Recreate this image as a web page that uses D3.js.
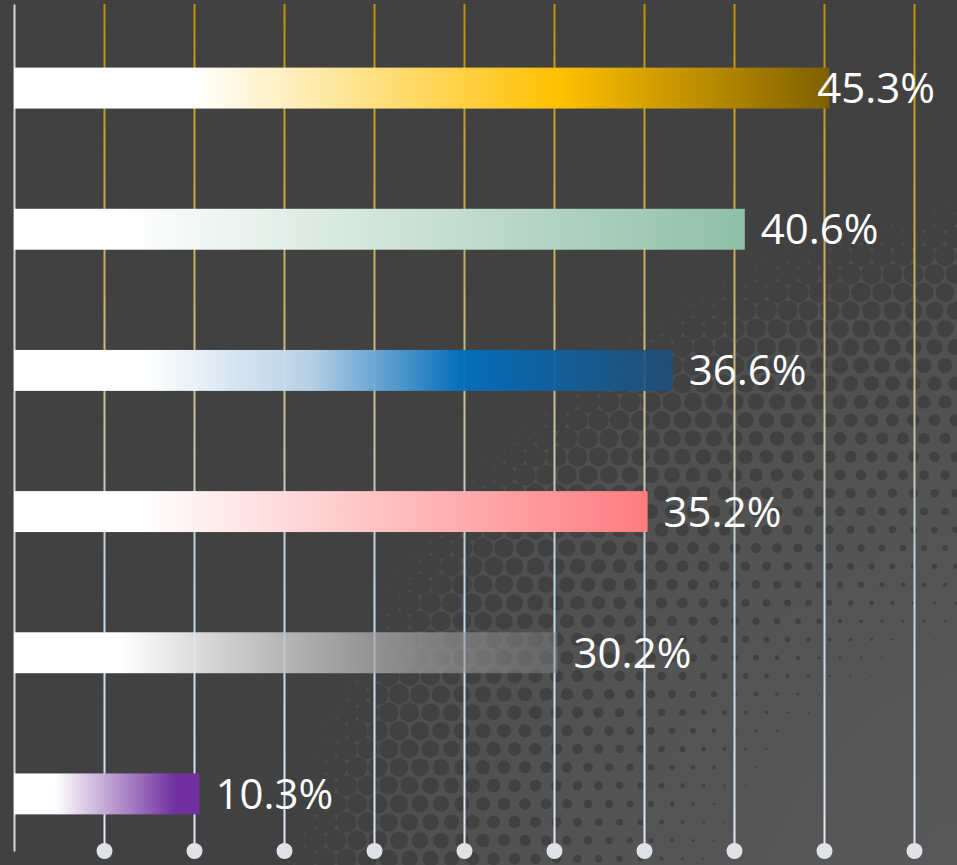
<!DOCTYPE html>
<html>
<head>
<meta charset="utf-8">
<script src="https://cdn.jsdelivr.net/npm/d3@7"></script>
<style>
  html, body { margin: 0; padding: 0; background: #404040; }
  svg { display: block; }
</style>
</head>
<body>
<div id="chart"></div>
<script>
// ---- data ----
let categories = ["A", "B", "C", "D", "E", "F"];
let values = [45.3, 40.6, 36.6, 35.2, 30.2, 10.3];
let labels = ["45.3%", "40.6%", "36.6%", "35.2%", "30.2%", "10.3%"];
let gridTicks = [5, 10, 15, 20, 25, 30, 35, 40, 45, 50];

// gradient stops for each bar (offset, colour, opacity)
let barStops = [
  [[0, "#ffffff", 1], [0.22, "#ffffff", 1], [0.4, "#ffe699", 1], [0.67, "#ffc000", 1], [1, "#7f6000", 1]],
  [[0, "#ffffff", 1], [0.15, "#ffffff", 1], [1, "#8fbfa8", 1]],
  [[0, "#ffffff", 1], [0.2, "#ffffff", 1], [0.45, "#bdd7ee", 0.95], [0.68, "#0070c0", 0.95], [1, "#1f4e79", 0.9]],
  [[0, "#ffffff", 1], [0.2, "#ffffff", 1], [1, "#ff7c80", 1]],
  [[0, "#ffffff", 1], [0.2, "#ffffff", 1], [0.6, "#b0b0b0", 0.85], [1, "#808080", 0.45]],
  [[0, "#ffffff", 1], [0.22, "#ffffff", 1], [0.87, "#7030a0", 1], [1, "#7030a0", 1]]
];

let width = 957, height = 865;
let x0 = 14, axisTop = 4, axisBottom = 851;

let svg = d3.select("#chart").append("svg")
  .attr("width", width)
  .attr("height", height);

let defs = svg.append("defs");

// ---- background: halftone from light corner ----
let bgGrad = defs.append("radialGradient").attr("id", "bg")
  .attr("gradientUnits", "userSpaceOnUse")
  .attr("cx", 1050).attr("cy", 950).attr("r", 900);
bgGrad.append("stop").attr("offset", 0).attr("stop-color", "#5a5a5a");
bgGrad.append("stop").attr("offset", 0.55).attr("stop-color", "#535353");
bgGrad.append("stop").attr("offset", 1).attr("stop-color", "#494949");

svg.append("rect").attr("width", width).attr("height", height).attr("fill", "url(#bg)");

let spacing = 21;
let dots = [];
for (let row = 0; row * spacing * 0.87 < height + spacing; row++) {
  for (let col = -1; col * spacing < width + spacing; col++) {
    let cx = col * spacing + (row % 2) * spacing / 2;
    let cy = row * spacing * 0.87;
    let d = Math.hypot(cx - 1080, cy - 1000);
    let r = Math.max(0, Math.min(15, (d - 360) / 560 * 14.5));
    if (r > 0.5) dots.push({cx, cy, r});
  }
}
svg.append("g").attr("id", "halftone")
  .selectAll("circle").data(dots).enter().append("circle")
  .attr("cx", d => d.cx).attr("cy", d => d.cy).attr("r", d => d.r)
  .attr("fill", "#414141");

// ---- scales ----
let xScale = d3.scaleLinear().domain([0, 50]).range([x0, 914]);
let yScale = d3.scaleBand().domain(categories)
  .range([17.5, 864.5])
  .paddingInner(0.71).paddingOuter(0.355);

// ---- gridlines via axis ----
let gridGrad = defs.append("linearGradient").attr("id", "grid")
  .attr("gradientUnits", "userSpaceOnUse")
  .attr("x1", 0).attr("y1", axisTop).attr("x2", 0).attr("y2", axisBottom);
gridGrad.append("stop").attr("offset", 0).attr("stop-color", "#bf9000");
gridGrad.append("stop").attr("offset", 0.35).attr("stop-color", "#c9b36a");
gridGrad.append("stop").attr("offset", 0.7).attr("stop-color", "#bdd7ee");
gridGrad.append("stop").attr("offset", 1).attr("stop-color", "#e4e8ee");

let gridAx = svg.append("g").attr("transform", `translate(0,${axisBottom})`)
  .call(d3.axisBottom(xScale).tickValues(gridTicks).tickSize(-(axisBottom - axisTop)).tickFormat(""));
gridAx.select(".domain").remove();
gridAx.selectAll(".tick line").attr("stroke", "url(#grid)").attr("stroke-width", 2)
  .attr("transform", `translate(0,${-axisBottom})`).attr("y1", axisBottom).attr("y2", axisTop);
gridAx.selectAll(".tick").append("circle").attr("r", 8).attr("fill", "#dfe2e7");

// left axis line
let yAx = svg.append("g").attr("transform", `translate(${x0},0)`)
  .call(d3.axisLeft(d3.scaleLinear().range([axisTop, axisBottom])).ticks(0).tickSizeOuter(0));
yAx.select(".domain").attr("stroke", "#d9d9d9").attr("stroke-width", 2);

// ---- bars ----
barStops.forEach((stops, i) => {
  let g = defs.append("linearGradient").attr("id", "bar" + i)
    .attr("x1", 0).attr("y1", 0).attr("x2", 1).attr("y2", 0);
  stops.forEach(s => g.append("stop").attr("offset", s[0]).attr("stop-color", s[1]).attr("stop-opacity", s[2]));
});

svg.append("g").attr("id", "bars")
  .selectAll("rect").data(values).enter().append("rect")
  .attr("x", xScale(0))
  .attr("y", (d, i) => yScale(categories[i]))
  .attr("width", d => xScale(d) - xScale(0))
  .attr("height", yScale.bandwidth())
  .attr("fill", (d, i) => `url(#bar${i})`);

// ---- labels ----
let lbl = svg.append("g").attr("id", "labels")
  .selectAll("text").data(values).enter().append("text")
  .attr("y", (d, i) => yScale(categories[i]) + yScale.bandwidth() / 2 + 15)
  .attr("fill", "#ffffff")
  .style("font-family", "'Open Sans', sans-serif")
  .style("font-size", "42px")
  .text((d, i) => labels[i]);

lbl.each(function (d) {
  let t = d3.select(this);
  let w = this.getComputedTextLength();
  let x = xScale(d) + 16;
  if (x + w > width - 20) {
    t.attr("x", width - 22).attr("text-anchor", "end");
  } else {
    t.attr("x", x);
  }
});
</script>
</body>
</html>
